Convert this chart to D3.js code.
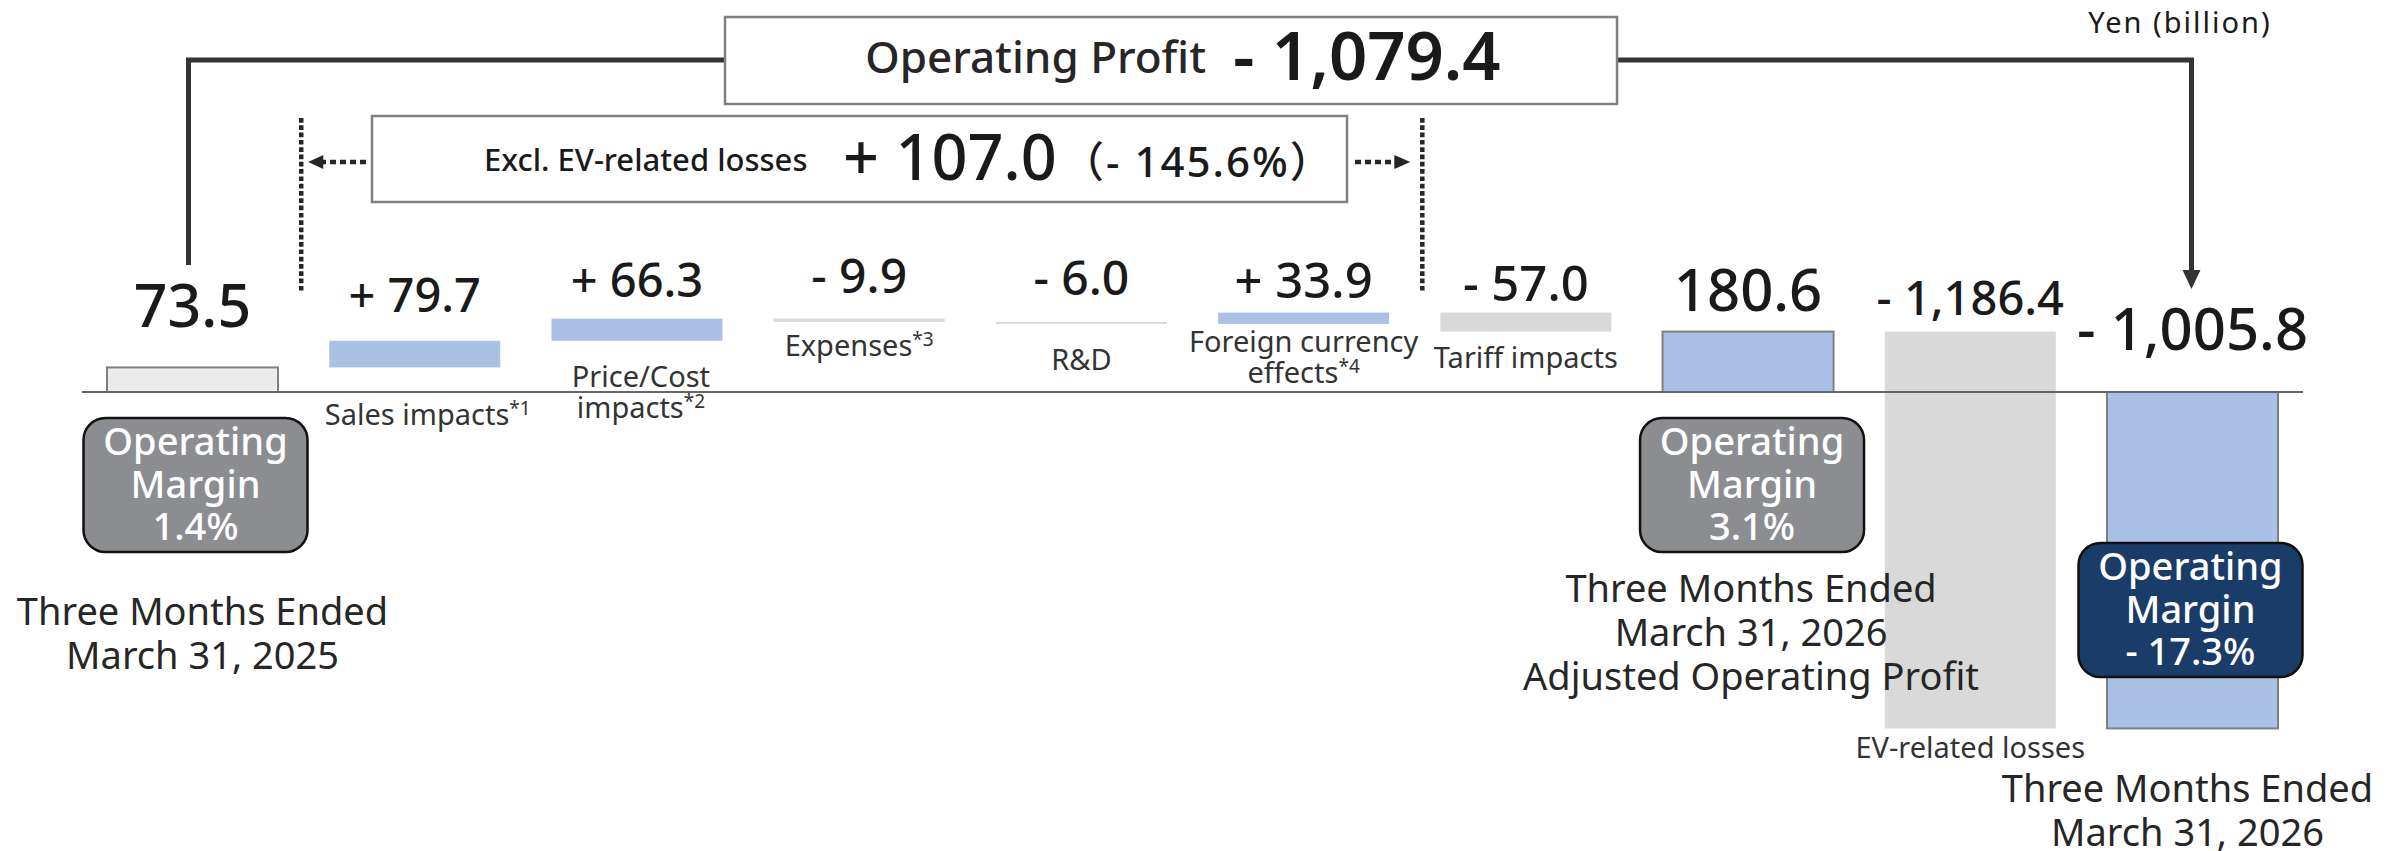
<!DOCTYPE html>
<html lang="en">
    <head>
        <meta charset="utf-8">
        <title>Operating Profit Waterfall</title>
        <script type="text/javascript" src="https://cdn.jsdelivr.net/npm/d3@7/dist/d3.min.js"></script>
        <style>
          body { margin: 0; background: #ffffff; }
          text { font-family: "Noto Sans", "Noto Sans CJK JP", sans-serif; }
        </style>
    </head>
    <body>
        <script type="text/javascript">
          // chart data
          var categories = ["Q4 FY2024", "Sales impacts", "Price/Cost impacts", "Expenses", "R&D",
                            "Foreign currency effects", "Tariff impacts", "Adjusted Q4 FY2025",
                            "EV-related losses", "Q4 FY2025"];
          var values = [73.5, 79.7, 66.3, -9.9, -6.0, 33.9, -57.0, 180.6, -1186.4, -1005.8];
          var kinds = ["total", "delta", "delta", "delta", "delta", "delta", "delta", "total", "delta", "total"];
          var valueLabels = ["73.5", "+ 79.7", "+ 66.3", "- 9.9", "- 6.0", "+ 33.9", "- 57.0",
                             "180.6", "- 1,186.4", "- 1,005.8"];
          var labelLines = [[], ["Sales impacts"], ["Price/Cost", "impacts"], ["Expenses"], ["R&D"],
                            ["Foreign currency", "effects"], ["Tariff impacts"], [], ["EV-related losses"], []];
          var notes = ["", "*1", "*2", "*3", "", "*4", "", "", "", ""];
          var periodLines = [["Three Months Ended", "March 31, 2025"], [], [], [], [], [], [],
                             ["Three Months Ended", "March 31, 2026", "Adjusted Operating Profit"], [],
                             ["Three Months Ended", "March 31, 2026"]];
          var margins = ["1.4%", "3.1%", "- 17.3%"];
          var totalChange = "- 1,079.4";
          var exclChange = "+ 107.0";
          var exclPct = "（- 145.6%）";
          var unit = "Yen (billion)";

          var w = 2402;
          var h = 851;

          // layout tweaks per bar
          var valueGap = [40, 29, 22, 26, 27, 15, 12, 21, 17, 42];
          var valueSize = [59, 47, 47, 48, 48, 49, 49, 58, 47, 58];
          var labelBase = [0, 425, 387, 356, 370, 352, 368, 0, 758, 0];
          var labelDx = [0, 13, 4, 0, 0, 0, 0, 0, 0, 0];
          var periodTop = [625, 0, 0, 0, 0, 0, 0, 602, 0, 802];
          var periodDx = [10, 0, 0, 0, 0, 0, 0, 3, 0, -5];

          var svg = d3.select("body").append("svg")
                      .attr("width", w)
                      .attr("height", h);

          var xScale = d3.scaleBand()
                  .domain(categories)
                  .range([82, 2303])
                  .paddingInner(0.2304)
                  .paddingOuter(0.1125);

          var yScale = d3.scaleLinear()
                  .domain([0, 1000])
                  .range([392, 57.5]);

          var bw = xScale.bandwidth();
          var cx = function(i) { return xScale(categories[i]) + bw / 2; };

          // waterfall steps
          var steps = [];
          var running = 0;
          values.forEach(function(v, i) {
            var start = kinds[i] == "total" ? 0 : running;
            var end = kinds[i] == "total" ? v : running + v;
            running = end;
            steps.push({i: i, start: start, end: end, value: v, kind: kinds[i]});
          });

          function fillOf(d) {
            if (d.kind == "total") return d.i == 0 ? "#ebebeb" : "#abc0e5";
            return d.value >= 0 ? "#abc0e5" : "#d9d9d9";
          }

          svg.selectAll("rect.bar")
             .data(steps)
             .enter()
             .append("rect")
             .attr("class", "bar")
             .attr("x", function(d) { return xScale(categories[d.i]); })
             .attr("y", function(d) { return yScale(Math.max(d.start, d.end)); })
             .attr("width", bw)
             .attr("height", function(d) { return Math.abs(yScale(d.start) - yScale(d.end)); })
             .attr("fill", fillOf)
             .attr("stroke", function(d) { return d.kind == "total" ? "#808080" : "none"; })
             .attr("stroke-width", 2);

          // zero line
          svg.append("line")
             .attr("x1", 82).attr("x2", 2303)
             .attr("y1", yScale(0)).attr("y2", yScale(0))
             .attr("stroke", "#666666")
             .attr("stroke-width", 2);

          // value labels
          svg.selectAll("text.value")
             .data(steps)
             .enter()
             .append("text")
             .attr("class", "value")
             .attr("x", function(d) { return cx(d.i); })
             .attr("y", function(d) { return yScale(Math.max(d.start, d.end)) - valueGap[d.i]; })
             .attr("text-anchor", "middle")
             .style("font-size", function(d) { return valueSize[d.i] + "px"; })
             .style("font-weight", 500)
             .style("fill", "#1a1a1a")
             .text(function(d) { return valueLabels[d.i]; });

          // category labels
          steps.forEach(function(d) {
            var lines = labelLines[d.i];
            if (!lines.length) return;
            var t = svg.append("text")
                       .attr("text-anchor", "middle")
                       .style("font-size", "29px")
                       .style("fill", "#333333");
            lines.forEach(function(line, k) {
              t.append("tspan")
               .attr("x", cx(d.i) + labelDx[d.i])
               .attr("y", labelBase[d.i] + k * 31)
               .text(line);
              if (k == lines.length - 1 && notes[d.i]) {
                t.append("tspan")
                 .attr("dy", -10)
                 .style("font-size", "19px")
                 .text(notes[d.i]);
              }
            });
          });

          // period labels below totals
          steps.forEach(function(d) {
            var lines = periodLines[d.i];
            if (!lines.length) return;
            var t = svg.append("text")
                       .attr("text-anchor", "middle")
                       .style("font-size", "38px")
                       .style("fill", "#262626");
            lines.forEach(function(line, k) {
              t.append("tspan")
               .attr("x", cx(d.i) + periodDx[d.i])
               .attr("y", periodTop[d.i] + k * 44)
               .text(line);
            });
          });

          // operating margin badges
          var totalIdx = steps.filter(function(d) { return d.kind == "total"; });
          var badgeTop = [418, 418, 543];
          var badgeDx = [3, 4, -2];
          totalIdx.forEach(function(d, k) {
            var bx = cx(d.i) + badgeDx[k];
            svg.append("rect")
               .attr("x", bx - 112)
               .attr("y", badgeTop[k])
               .attr("width", 224)
               .attr("height", 134)
               .attr("rx", 22)
               .attr("fill", k == 2 ? "#1a3c68" : "#8c8d91")
               .attr("stroke", "#111111")
               .attr("stroke-width", 2.5);
            var t = svg.append("text")
                       .attr("text-anchor", "middle")
                       .style("font-size", "38px")
                       .style("font-weight", 500)
                       .style("fill", "#ffffff");
            ["Operating", "Margin", margins[k]].forEach(function(line, j) {
              t.append("tspan")
               .attr("x", bx)
               .attr("y", badgeTop[k] + 37 + j * 42.5)
               .text(line);
            });
          });

          // operating profit bracket
          var leftX = cx(0) - 4;
          var rightX = cx(9) - 1;
          svg.append("path")
             .attr("d", "M" + leftX + ",265V60H725")
             .attr("fill", "none")
             .attr("stroke", "#333333")
             .attr("stroke-width", 5);
          svg.append("path")
             .attr("d", "M1617,60H" + rightX + "V274")
             .attr("fill", "none")
             .attr("stroke", "#333333")
             .attr("stroke-width", 5);
          svg.append("path")
             .attr("d", "M" + (rightX - 9) + ",270L" + (rightX + 9) + ",270L" + rightX + ",289Z")
             .attr("fill", "#333333");

          svg.append("rect")
             .attr("x", 725).attr("y", 17)
             .attr("width", 892).attr("height", 87)
             .attr("fill", "#ffffff")
             .attr("stroke", "#808080")
             .attr("stroke-width", 2.5);
          svg.append("text")
             .attr("x", 1206).attr("y", 73)
             .attr("text-anchor", "end")
             .style("font-size", "44px")
             .style("font-weight", 500)
             .style("fill", "#262626")
             .text("Operating Profit");
          svg.append("text")
             .attr("x", 1233).attr("y", 80)
             .style("font-size", "67px")
             .style("font-weight", 600)
             .style("fill", "#1a1a1a")
             .text(totalChange);

          // excluding EV losses box
          var dotL = xScale(categories[1]) - 28;
          var dotR = xScale(categories[6]) - 18;
          [dotL, dotR].forEach(function(x) {
            svg.append("line")
               .attr("x1", x).attr("x2", x)
               .attr("y1", 118).attr("y2", 293)
               .attr("stroke", "#262626")
               .attr("stroke-width", 4.5)
               .attr("stroke-dasharray", "4.7,2.6");
          });

          svg.append("rect")
             .attr("x", 372).attr("y", 116)
             .attr("width", 975).attr("height", 86)
             .attr("fill", "#ffffff")
             .attr("stroke", "#808080")
             .attr("stroke-width", 2.5);
          svg.append("text")
             .attr("x", 484).attr("y", 171)
             .style("font-size", "31px")
             .style("font-weight", 500)
             .style("fill", "#1a1a1a")
             .text("Excl. EV-related losses");
          svg.append("text")
             .attr("x", 843).attr("y", 180)
             .style("font-size", "63px")
             .style("font-weight", 500)
             .style("fill", "#1a1a1a")
             .text(exclChange);
          svg.append("text")
             .attr("x", 1062).attr("y", 177)
             .style("font-size", "42px")
             .style("font-weight", 500)
             .style("letter-spacing", "2px")
             .style("fill", "#1a1a1a")
             .text(exclPct);

          // dotted arrows out of the box
          svg.append("line")
             .attr("x1", 366).attr("x2", 322)
             .attr("y1", 162).attr("y2", 162)
             .attr("stroke", "#262626").attr("stroke-width", 4.5)
             .attr("stroke-dasharray", "6,4");
          svg.append("path")
             .attr("d", "M" + (dotL + 7) + ",162L" + (dotL + 22) + ",155L" + (dotL + 22) + ",169Z")
             .attr("fill", "#262626");
          svg.append("line")
             .attr("x1", 1355).attr("x2", 1398)
             .attr("y1", 162).attr("y2", 162)
             .attr("stroke", "#262626").attr("stroke-width", 4.5)
             .attr("stroke-dasharray", "6,4");
          svg.append("path")
             .attr("d", "M" + (dotR - 12) + ",162L" + (dotR - 28) + ",155L" + (dotR - 28) + ",169Z")
             .attr("fill", "#262626");

          svg.append("text")
             .attr("x", 2180).attr("y", 33)
             .attr("text-anchor", "middle")
             .style("font-size", "29px")
             .style("letter-spacing", "2px")
             .style("fill", "#1a1a1a")
             .text(unit);
        </script>
    </body>
</html>
